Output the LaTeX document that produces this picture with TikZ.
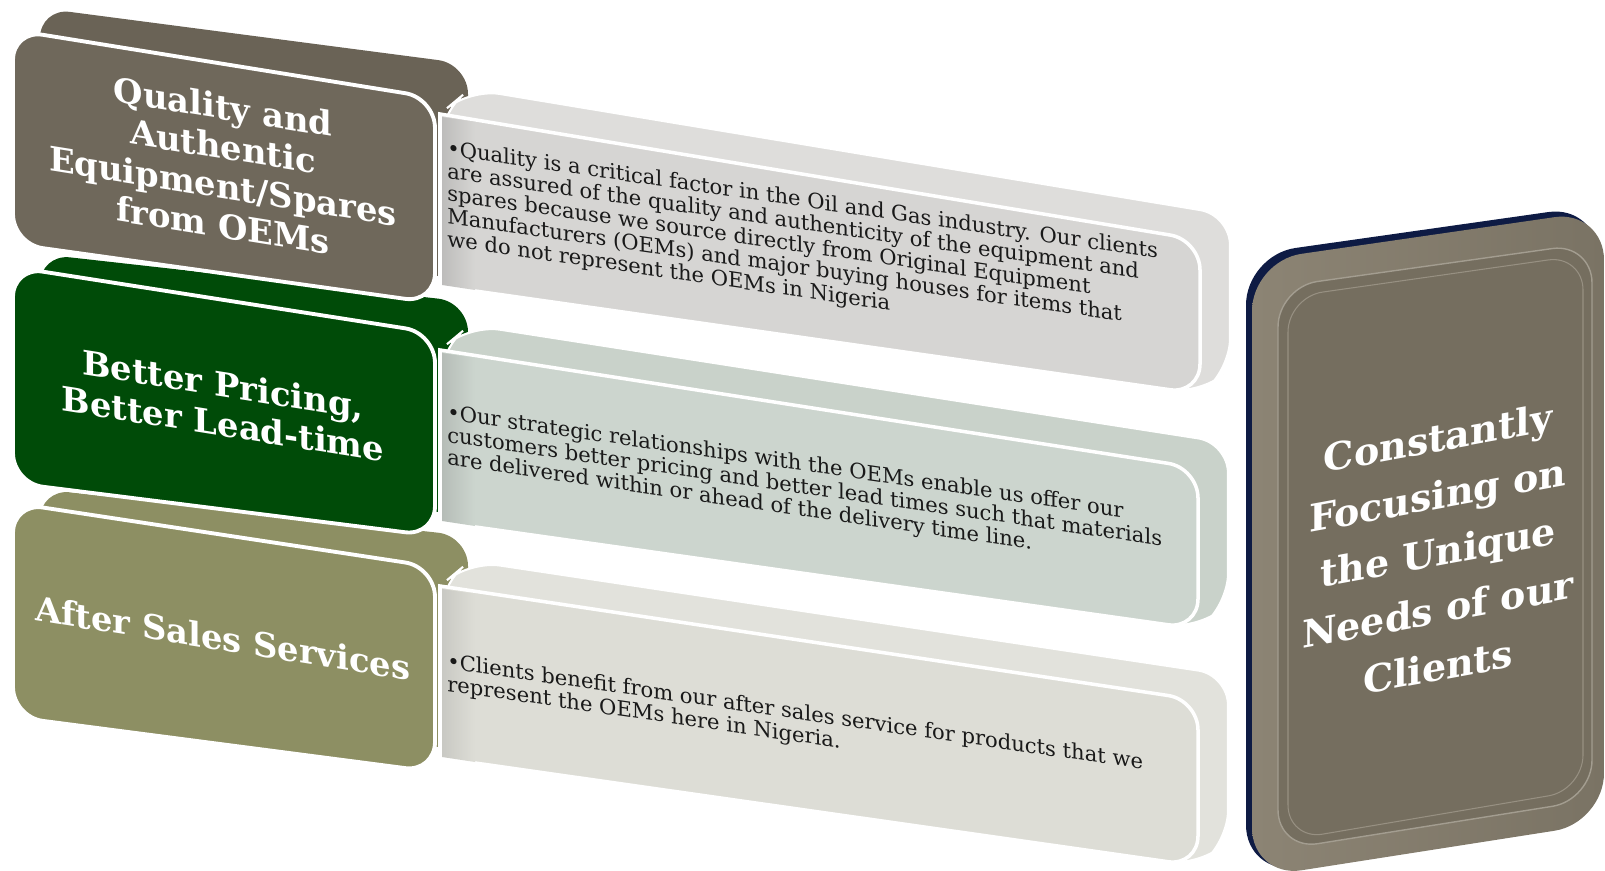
\documentclass[tikz,border=0pt]{standalone}
\usepackage{fontspec}
\setmainfont{DejaVu Serif}
\definecolor{slate}{RGB}{111,104,91}
\definecolor{slateback}{RGB}{106,99,86}
\definecolor{forest}{RGB}{0,75,8}
\definecolor{olive}{RGB}{141,143,99}
\definecolor{paneA}{RGB}{214,213,211}
\definecolor{paneAside}{RGB}{222,221,219}
\definecolor{paneB}{RGB}{204,213,206}
\definecolor{paneBside}{RGB}{201,210,202}
\definecolor{paneC}{RGB}{221,221,214}
\definecolor{paneCside}{RGB}{226,226,220}
\definecolor{navyrim}{RGB}{14,27,68}
\definecolor{bevel}{RGB}{122,115,100}
\definecolor{bevellight}{RGB}{140,132,116}
\definecolor{focusface}{RGB}{117,110,95}
\definecolor{inkgray}{RGB}{25,25,25}
\begin{document}
\begin{tikzpicture}[x=0.02cm, y=-0.02cm,
    frontface/.style={draw=white, line width=2.2pt, rounded corners=0.6cm},
    rearface/.style={rounded corners=0.6cm},
    panebody/.style={draw=white, line width=1.2pt, rounded corners=0.6cm},
    headtext/.style={text=white, font=\fontsize{19.2}{22.5}\selectfont\bfseries, align=center, yslant=-0.16, inner sep=0pt},
    note/.style={text=inkgray, font=\fontsize{12}{12.9}\selectfont, align=left, anchor=north west, yslant=-0.145, inner sep=0pt}
]
\useasboundingbox (0,0) rectangle (1605,871);
\clip (0,0) rectangle (1605,871);

\fill[slateback, rearface] (40,120) -- (40,8) -- (468,64) -- (468,280) -- (40,222) -- cycle;
\fill[forest, rearface] (40,360) -- (40,254) -- (468,302) -- (468,515) -- (40,470) -- cycle;
\fill[olive, rearface] (40,600) -- (40,489) -- (468,536) -- (468,750) -- (40,705) -- cycle;

\fill[paneAside, panebody] (440,200) -- (440,114) -- (470,89) -- (1230,215) -- (1230,369) -- (1200,394) -- (440,286) -- cycle;
\fill[paneBside, panebody] (440,430) -- (440,350) -- (470,325) -- (1228,443) -- (1228,604) -- (1198,629) -- (440,522) -- cycle;
\fill[paneCside, panebody] (440,670) -- (440,586) -- (470,561) -- (1228,675) -- (1228,841) -- (1198,866) -- (440,758) -- cycle;

\filldraw[fill=paneA, draw=white, line width=2pt] (440,286) -- (440,114) [rounded corners=0.6cm] -- (1200,240) -- (1200,394) -- (440,286) [sharp corners] -- cycle;
\filldraw[fill=paneB, draw=white, line width=2pt] (440,522) -- (440,350) [rounded corners=0.6cm] -- (1198,468) -- (1198,629) -- (440,522) [sharp corners] -- cycle;
\filldraw[fill=paneC, draw=white, line width=2pt] (440,758) -- (440,586) [rounded corners=0.6cm] -- (1198,700) -- (1198,866) -- (440,758) [sharp corners] -- cycle;

\shade[left color=paneA!85!black!90, right color=paneA] (442,117) -- (475,122) -- (475,290) -- (442,285) -- cycle;
\shade[left color=paneB!85!black!90, right color=paneB] (442,353) -- (475,358) -- (475,526) -- (442,521) -- cycle;
\shade[left color=paneC!88!black!90, right color=paneC] (442,589) -- (475,594) -- (475,762) -- (442,757) -- cycle;

\filldraw[fill=slate, frontface] (13,137) -- (13,30) -- (435,98) -- (435,303) -- (13,244) -- cycle;
\filldraw[fill=forest, frontface] (13,375) -- (13,267) -- (435,333) -- (435,536) -- (13,483) -- cycle;
\filldraw[fill=olive, frontface] (13,610) -- (13,503) -- (435,567) -- (435,772) -- (13,717) -- cycle;

\fill[navyrim, rounded corners=1cm] (1246,560) -- (1246,255) -- (1598,205) -- (1598,820) -- (1246,875) -- cycle;
\shade[left color=bevellight, right color=bevel, rounded corners=1cm] (1252,560) -- (1252,261) -- (1604,210) -- (1604,823) -- (1252,878) -- cycle;
\filldraw[fill=focusface, draw=bevellight!80!white, line width=0.8pt, rounded corners=0.8cm] (1278,560) -- (1278,287) -- (1592,243) -- (1592,800) -- (1278,850) -- cycle;
\draw[bevellight!90!white, line width=0.6pt, rounded corners=0.7cm] (1288,560) -- (1288,297) -- (1583,255) -- (1583,790) -- (1288,840) -- cycle;

\node[headtext] (quality) at (223,166) {Quality and\\Authentic\\Equipment/Spares\\from OEMs};
\node[headtext] (pricing) at (223,404) {Better Pricing,\\Better Lead-time};
\node[headtext] (aftersales) at (223,638) {After Sales Services};

\node[note] (qualitynote) at (447,139) {•Quality is a critical factor in the Oil and Gas industry. Our clients\\are assured of the quality and authenticity of the equipment and\\spares because we source directly from Original Equipment\\Manufacturers (OEMs) and major buying houses for items that\\we do not represent the OEMs in Nigeria};
\node[note] (pricingnote) at (447,403) {•Our strategic relationships with the OEMs enable us offer our\\customers better pricing and better lead times such that materials\\are delivered within or ahead of the delivery time line.};
\node[note] (aftersalesnote) at (447,652) {•Clients benefit from our after sales service for products that we\\represent the OEMs here in Nigeria.};

\node[text=white, font=\fontsize{21.6}{32.6}\selectfont\bfseries, align=center, yslant=0.185, inner sep=0pt] (focus) at (1438,552) {Constantly\\Focusing on\\the Unique\\Needs of our\\Clients};
\end{tikzpicture}
\end{document}
